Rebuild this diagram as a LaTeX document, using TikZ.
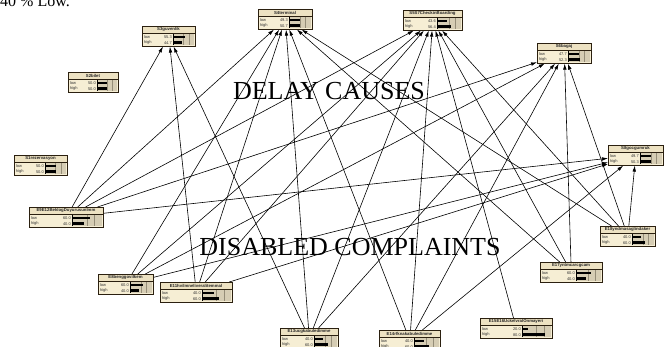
\documentclass[tikz,border=0pt]{standalone}
\usepackage{fontspec}
\setmainfont{Liberation Serif}
\newfontfamily\bnfont{Liberation Sans}
\usetikzlibrary{arrows.meta,backgrounds}
\definecolor{bnframe}{HTML}{2B2010}
\definecolor{bnfill}{HTML}{F6EED4}
\definecolor{bntitle}{HTML}{EDE2C2}
\definecolor{bnbar}{HTML}{D6CDB4}
\definecolor{bngridc}{HTML}{958D78}
\tikzset{
  bnbox/.style={draw=bnframe,fill=bnfill,line width=0.6pt,rectangle,inner sep=0pt,minimum height=20pt},
  bntitletext/.style={font=\bnfont\bfseries\fontsize{4.3}{4.3}\selectfont,inner sep=0pt,text=black!85},
  bnrow/.style={font=\bnfont\fontsize{4}{4}\selectfont,inner sep=0pt,text=black!80},
  link/.style={line width=0.6pt,-{Latex[length=6pt,width=3.6pt]}},
  bigtext/.style={font=\fontsize{26}{26}\selectfont,inner sep=0pt}
}
\newcommand\bnnode[7]{%
  \pgfmathsetmacro\bnbs{round(0.58*#4)}%
  \pgfmathsetmacro\bnbw{#4-1-\bnbs}%
  \pgfmathsetmacro\bnlo{#6/100*\bnbw}%
  \pgfmathsetmacro\bnhi{#7/100*\bnbw}%
  \node[bnbox,minimum width=#4pt,anchor=north west] (#1) at (#2,#3) {};
  \begin{scope}[shift={(#2,#3)}]
    \fill[bntitle] (0,0) rectangle (#4,7);
    \draw[bnframe,line width=0.4pt] (0,7) -- (#4,7);
    \fill[bnbar] (\bnbs,8) rectangle (#4-1,19);
    \draw[bngridc,line width=0.3pt] (\bnbs+0.5*\bnbw,8) -- (\bnbs+0.5*\bnbw,19)
      (\bnbs+0.75*\bnbw,8) -- (\bnbs+0.75*\bnbw,19);
    \draw[black,line width=0.4pt] (\bnbs,8) -- (\bnbs,19);
    \fill[black] (\bnbs,9.6) rectangle ++(\bnlo,2.8);
    \fill[black] (\bnbs,15.4) rectangle ++(\bnhi,2.8);
    \node[bntitletext] (#1t) at (#4/2,3.7) {#5};
    \node[bnrow,anchor=west] (#1ll) at (1.8,11) {low};
    \node[bnrow,anchor=east] (#1lv) at (\bnbs-1,11) {#6};
    \node[bnrow,anchor=west] (#1hl) at (1.8,16.8) {high};
    \node[bnrow,anchor=east] (#1hv) at (\bnbs-1,16.8) {#7};
    \draw[bnframe,line width=0.6pt] (0,0) rectangle (#4,20);
  \end{scope}
}
\begin{document}
\begin{tikzpicture}[x=1pt,y=-1pt]
\useasboundingbox (0,0) rectangle (671,347);
\clip (0,0) rectangle (671,347);

\node[font=\fontsize{16}{16}\selectfont,inner sep=0pt,anchor=base west] (hdr) at (0,7) {40 \% Low.};

% cause nodes
\bnnode{s4}{258}{9}{54}{S4terminal}{49.3}{50.7}
\bnnode{s57}{403}{10}{59}{S5S7CheckinBoarding}{43.6}{56.4}
\bnnode{s6}{537}{43}{54}{S6bagaj}{47.7}{52.3}
\bnnode{s3}{142}{26}{53}{S3guvenlik}{55.3}{44.7}
\bnnode{s2}{68}{72}{50}{S2bilet}{50.0}{50.0}
\bnnode{s1}{14}{155}{53}{S1rezervasyon}{50.0}{50.0}
\bnnode{s8}{608}{145}{55}{S8gocgumruk}{49.7}{50.3}
% complaint nodes
\bnnode{e912}{29}{207}{74}{E9E12BeklogDuyurusunImm}{60.0}{40.0}
\bnnode{e18}{600}{226}{55}{E18yndmasaglindaker}{40.0}{60.0}
\bnnode{e8}{98}{274}{55}{E8benggovilkem}{60.0}{40.0}
\bnnode{e11}{160}{282}{72}{E11hvilmneliveralitemmal}{40.0}{60.0}
\bnnode{e17}{540}{262}{62}{E17yntmcarcgcam}{60.0}{40.0}
\bnnode{e13}{280}{328}{58}{E13ucgkabuledimme}{40.0}{60.0}
\bnnode{e14}{379}{330}{61}{E14rfknakabuledimme}{40.0}{60.0}
\bnnode{e1516}{480}{318}{72}{E15E16UckelvralOnmayeri}{20.0}{80.0}

\node[bigtext] (delay) at (329,91) {DELAY CAUSES};
\node[bigtext] (disabled) at (350,247) {DISABLED COMPLAINTS};

\begin{pgfonlayer}{background}
\foreach \a/\b in {e912/s3,e912/s4,e912/s57,e912/s6,e912/s8,
  e8/s4,e8/s57,e8/s6,e8/s8,
  e11/s3,e11/s4,e11/s57,e11/s8,
  e13/s3,e13/s4,e13/s57,e13/s6,
  e14/s4,e14/s57,e14/s6,e14/s8,
  e1516/s57,
  e17/s4,e17/s57,e17/s6,
  e18/s4,e18/s57,e18/s6,e18/s8}
  \draw[link] (\a) -- (\b);
\end{pgfonlayer}
\end{tikzpicture}
\end{document}
